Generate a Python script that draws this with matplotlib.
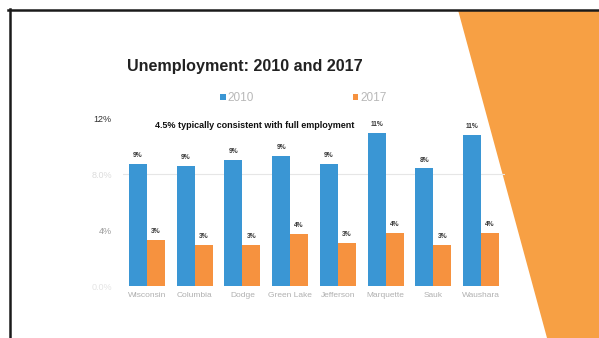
import matplotlib
matplotlib.use("Agg")
import matplotlib.pyplot as plt
import numpy as np
from matplotlib.patches import Polygon
from matplotlib.lines import Line2D

plt.rcParams['font.family'] = ['Liberation Sans', 'DejaVu Sans']

counties = ['Wisconsin', 'Columbia', 'Dodge', 'Green Lake', 'Jefferson', 'Marquette', 'Sauk', 'Waushara']
rate_2010 = [8.7, 8.6, 9.0, 9.3, 8.7, 10.9, 8.4, 10.8]
rate_2017 = [3.3, 2.9, 2.9, 3.7, 3.1, 3.8, 2.9, 3.8]
ytick_vals = [0, 4, 8, 12]
ytick_text = ['0.0%', '4%', '8.0%', '12%']
ytick_colors = ['#e4e4e4', '#9a9a9a', '#dcdcdc', '#333333']

blue = '#3a96d4'
orange = '#f6923f'

fig = plt.figure(figsize=(5.99, 3.38), dpi=100)
fig.patch.set_facecolor('white')

# orange wedge on the right side of the slide
fig.add_artist(Polygon([(458/599, 1-10/338), (1, 1-10/338), (1, 0), (547/599, 0)],
                       closed=True, transform=fig.transFigure,
                       facecolor='#f7a044', edgecolor='none', zorder=0))
# slide border
fig.add_artist(Line2D([8/599, 1], [1-9.5/338, 1-9.5/338], transform=fig.transFigure,
                      color='#1a1a1a', lw=1.8, zorder=5))
fig.add_artist(Line2D([9.5/599, 9.5/599], [1-9/338, 0], transform=fig.transFigure,
                      color='#1a1a1a', lw=1.8, zorder=5))

ax = fig.add_axes([123/599, 1-286/338, 382/599, 168/338])
x = np.arange(len(counties))
w = 0.375
b1 = ax.bar(x - w/2, rate_2010, w, color=blue, label='2010', zorder=3)
b2 = ax.bar(x + w/2, rate_2017, w, color=orange, label='2017', zorder=3)

for bars, vals in ((b1, rate_2010), (b2, rate_2017)):
    for r, v in zip(bars, vals):
        ax.text(r.get_x() + r.get_width()/2, v + 0.35, '%.0f%%' % v,
                ha='center', va='bottom', fontsize=4.8, fontweight='bold', color='#3a3a3a')

ax.axhline(8, color='#e6e6e6', lw=0.8, zorder=1)
ax.set_ylim(0, 12)
ax.set_xlim(-0.5, len(counties) - 0.5)
ax.set_yticks(ytick_vals)
ax.set_yticklabels(ytick_text, fontsize=6.5)
for lbl, c in zip(ax.get_yticklabels(), ytick_colors):
    lbl.set_color(c)
ax.set_xticks(x)
ax.set_xticklabels(counties, fontsize=6, color='#b0b0b0')
ax.tick_params(length=0, pad=8)
ax.tick_params(axis='x', pad=4)
for s in ax.spines.values():
    s.set_visible(False)
ax.patch.set_alpha(0)

fig.text(244.5/599, 1-67/338, 'Unemployment: 2010 and 2017', ha='center', va='center',
         fontsize=11.6, fontweight='bold', color='#222222')
fig.text(254.5/599, 1-125/338, '4.5% typically consistent with full employment',
         ha='center', va='center', fontsize=6.5, fontweight='bold', color='#111111')

leg = fig.legend(handles=[b1, b2], loc='center', bbox_to_anchor=(303.5/599, 1-98/338),
                 ncol=2, frameon=False, fontsize=8.5, handlelength=0.45, handleheight=0.45,
                 handletextpad=0.15, columnspacing=8.4, borderpad=0)
for t in leg.get_texts():
    t.set_color('#b8b8b8')

fig.savefig('out.png', dpi=100)
